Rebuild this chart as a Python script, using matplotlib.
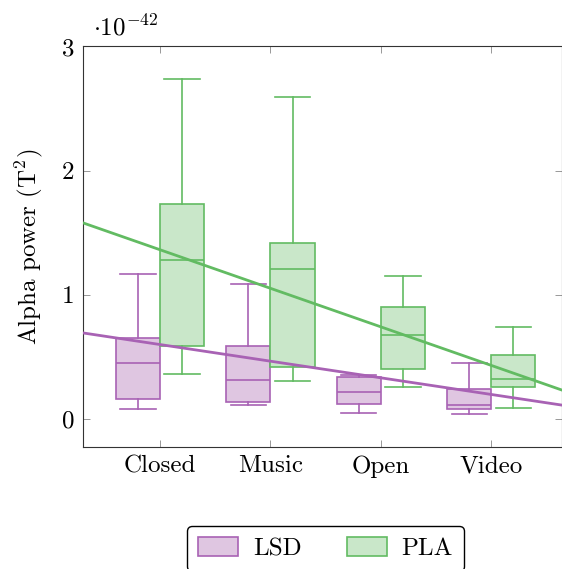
import numpy as np
import matplotlib
matplotlib.use("Agg")
import matplotlib.pyplot as plt
from matplotlib.patches import Patch

plt.rcParams['font.family'] = 'cmr10'
plt.rcParams['mathtext.fontset'] = 'cm'
plt.rcParams['axes.formatter.use_mathtext'] = True

categories = ['Closed', 'Music', 'Open', 'Video']

# box statistics (units of 1e-42 T^2)
lsd_whislo = [0.08, 0.11, 0.05, 0.04]
lsd_q1 = [0.16, 0.14, 0.12, 0.08]
lsd_med = [0.45, 0.315, 0.215, 0.11]
lsd_q3 = [0.65, 0.59, 0.335, 0.24]
lsd_whishi = [1.165, 1.09, 0.355, 0.45]

pla_whislo = [0.365, 0.31, 0.255, 0.09]
pla_q1 = [0.59, 0.42, 0.40, 0.255]
pla_med = [1.28, 1.21, 0.68, 0.32]
pla_q3 = [1.73, 1.42, 0.905, 0.515]
pla_whishi = [2.74, 2.59, 1.15, 0.745]

# trend lines, value at each category
lsd_trend = [0.600, 0.466, 0.332, 0.198]
pla_trend = [1.363, 1.053, 0.742, 0.432]

purple = '#a862b4'
purple_fill = '#dfc6e1'
green = '#62bb62'
green_fill = '#c9e7c9'


def make_stats(lo, q1, med, q3, hi):
    out = []
    for a, b, c, d, e in zip(lo, q1, med, q3, hi):
        out.append({'whislo': a, 'q1': b, 'med': c, 'q3': d, 'whishi': e, 'fliers': []})
    return out


fig = plt.figure(figsize=(5.62, 5.69), dpi=100)
ax = fig.add_axes([0.1477, 0.2144, 0.8523, 0.7039])

pos = np.arange(1, len(categories) + 1)


def draw(stats, positions, edge, fill):
    ax.bxp(stats, positions=positions, widths=0.4, capwidths=0.32,
           patch_artist=True, showfliers=False,
           boxprops=dict(facecolor=fill, edgecolor=edge, linewidth=1.2),
           medianprops=dict(color=edge, linewidth=1.2),
           whiskerprops=dict(color=edge, linewidth=1.2),
           capprops=dict(color=edge, linewidth=1.2))


draw(make_stats(lsd_whislo, lsd_q1, lsd_med, lsd_q3, lsd_whishi), pos - 0.2, purple, purple_fill)
draw(make_stats(pla_whislo, pla_q1, pla_med, pla_q3, pla_whishi), pos + 0.2, green, green_fill)

xlo, xhi = 0.302, 4.64
xx = np.array([xlo, xhi])
k, b = np.polyfit(pos, lsd_trend, 1)
ax.plot(xx, k * xx + b, color=purple, lw=2.0, zorder=5)
k, b = np.polyfit(pos, pla_trend, 1)
ax.plot(xx, k * xx + b, color=green, lw=2.0, zorder=5)

ax.set_xlim(xlo, xhi)
ax.set_ylim(-0.225, 3.0)
ax.set_xticks(pos)
ax.set_xticklabels(categories)
ax.set_yticks([0, 1, 2, 3])
ax.set_yticklabels(['0', '1', '2', '3'])
ax.tick_params(direction='in', length=5, width=0.6, color='#888888',
               top=True, right=True, labelsize=18, pad=6)
for s in ax.spines.values():
    s.set_linewidth(0.8)
    s.set_color('#333333')

ax.set_ylabel(r'Alpha power (T$^2$)', fontsize=18, labelpad=12.5)
ax.text(0.02, 1.015, r'$\cdot 10^{-42}$', transform=ax.transAxes,
        fontsize=18, ha='left', va='bottom')

handles = [Patch(facecolor=purple_fill, edgecolor=purple, linewidth=1.2, label='LSD'),
           Patch(facecolor=green_fill, edgecolor=green, linewidth=1.2, label='PLA')]
fig.legend(handles=handles, loc='center', bbox_to_anchor=(0.579, 0.036), ncol=2,
           fontsize=18, frameon=True, fancybox=True, edgecolor='black',
           handlelength=1.6, handleheight=0.8, handletextpad=0.6, columnspacing=1.8,
           borderpad=0.45, framealpha=1)

fig.savefig('out.png', dpi=100)
